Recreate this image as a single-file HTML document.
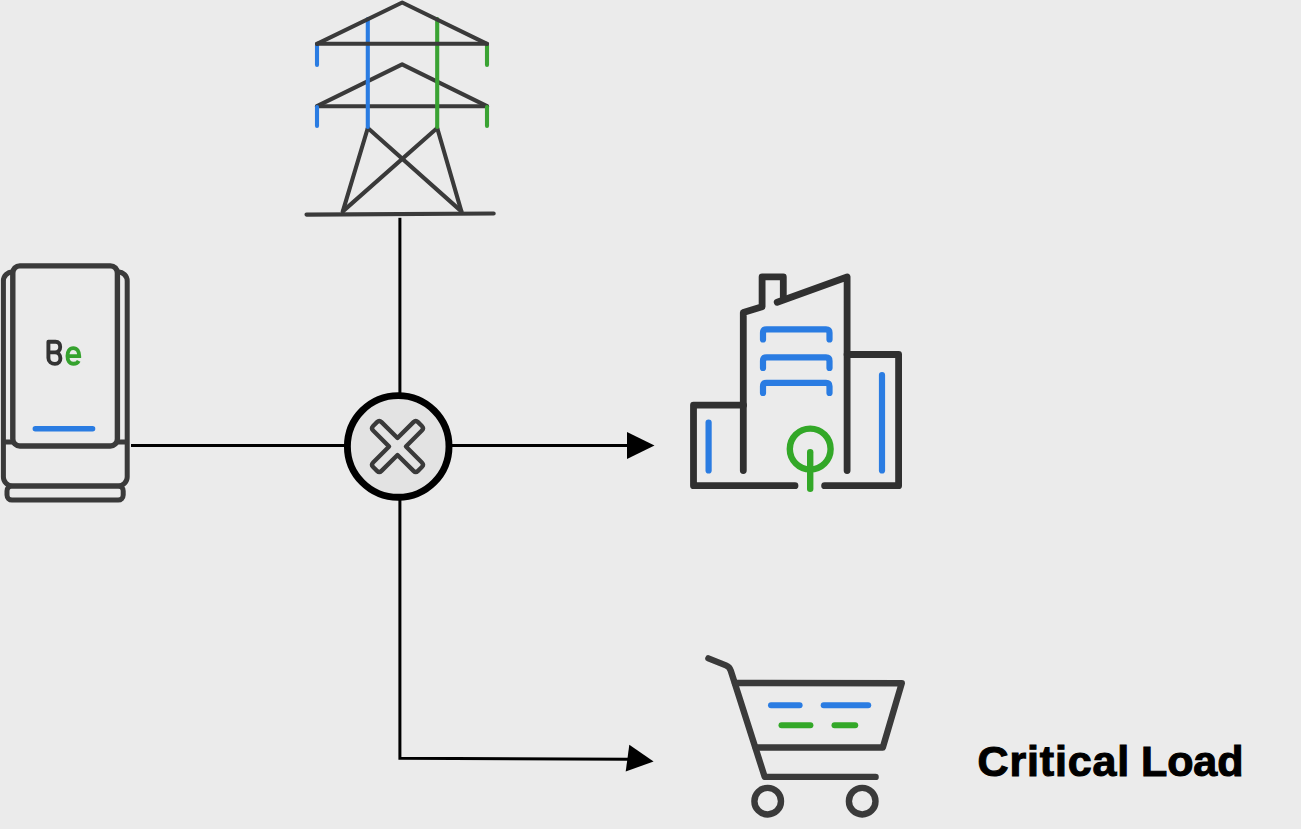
<!DOCTYPE html>
<html>
<head>
<meta charset="utf-8">
<style>
html,body{margin:0;padding:0;background:#ebebeb;}
body{width:1301px;height:829px;overflow:hidden;position:relative;}
svg{position:absolute;left:0;top:0;}
.t{position:absolute;left:977.5px;top:740.2px;font-family:"Liberation Sans",sans-serif;font-weight:bold;font-size:43px;color:#000;-webkit-text-stroke:1.1px #000;white-space:nowrap;line-height:1;}
</style>
</head>
<body>
<svg width="1301" height="829" viewBox="0 0 1301 829">
  <!-- connector lines -->
  <g stroke="#000" stroke-width="3" fill="none">
    <line x1="399.9" y1="217.8" x2="399.9" y2="394"/>
    <line x1="131" y1="445.6" x2="346" y2="445.6"/>
    <line x1="451" y1="445.6" x2="630" y2="445.6"/>
    <polyline points="399.9,499 399.9,758.2 628,759.2"/>
  </g>
  <polygon points="627,432 654.5,445.6 627,459" fill="#000"/>
  <polygon points="629.3,744.8 653.6,761.5 625.7,771.6" fill="#000"/>

  <!-- circle with X -->
  <circle cx="398.2" cy="446.4" r="50.8" fill="#e3e3e3" stroke="#000" stroke-width="6.9"/>


  <!-- battery -->
  <g stroke="#3a3a3a" stroke-width="5" fill="none" stroke-linejoin="round">
    <rect x="3.4" y="272" width="123.8" height="213.9" rx="9"/>
    <line x1="3.4" y1="442" x2="127.2" y2="442"/>
    <rect x="7" y="485.9" width="116.2" height="14.2" rx="5"/>
    <rect x="12.8" y="265.9" width="104.6" height="180.1" rx="7" fill="#ebebeb" stroke-width="5.4"/>
  </g>
  <line x1="35.3" y1="428.7" x2="92.6" y2="428.7" stroke="#2a7ce2" stroke-width="5.4" stroke-linecap="round"/>
  <path d="M48.4,352.4 V341.7 H55.5 C58.8,341.7 60.2,344.2 60.2,347 C60.2,350.2 58,352.4 55,352.4 H48.4 M48.4,341.7 V358 C48.4,361.7 51.5,363.9 55,363.9 C58.5,363.9 60.4,361.5 60.4,358.2 C60.4,354.8 58,352.4 55,352.4" fill="none" stroke="#333" stroke-width="3.9" stroke-linejoin="round"/>
  <path d="M67.3,356.1 H79.2 C79.2,351.5 77,348.1 73.3,348.1 C69.5,348.1 67.5,351.5 67.5,355.9 C67.5,360.5 69.5,363.8 73.5,363.8 C76,363.8 77.8,362.7 78.7,360.8" fill="none" stroke="#35a22e" stroke-width="3.9"/>
  <!-- building -->
  <g stroke="#303030" stroke-width="6.8" fill="none" stroke-linecap="round" stroke-linejoin="round">
    <polyline points="795,485.7 693.5,485.7 693.5,405.2 743.5,405.2"/>
    <polyline points="743.3,470.6 743.3,312.6 762.1,306.8 762.1,276.8 783.3,276.8 783.3,297.1"/>
    <polyline points="777.2,302.3 847.1,277 847.1,470.6"/>
    <polyline points="847.1,354.5 898.6,354.5 898.6,485.7 824.6,485.7"/>
  </g>
  <g stroke="#2a7ce2" stroke-width="6.2" fill="none" stroke-linecap="round" stroke-linejoin="round">
    <path d="M763,339.5 V332.8 Q763,329.3 766.5,329.3 H826.0 Q829.5,329.3 829.5,332.8 V339.5"/>
    <path d="M763,368 V360.9 Q763,357.4 766.5,357.4 H826.0 Q829.5,357.4 829.5,360.9 V368"/>
    <path d="M763,393 V386.3 Q763,382.8 766.5,382.8 H826.0 Q829.5,382.8 829.5,386.3 V393"/>
    <line x1="708.6" y1="422.5" x2="708.6" y2="470.4"/>
    <line x1="882" y1="375" x2="882" y2="470.4"/>
  </g>
  <g stroke="#33a828" stroke-width="6.4" fill="none" stroke-linecap="round">
    <circle cx="810.2" cy="449" r="20.4"/>
    <line x1="810.2" y1="452.3" x2="810.2" y2="488.7"/>
  </g>

  <!-- cart -->
  <g stroke="#3a3a3a" stroke-width="6.4" fill="none" stroke-linecap="round" stroke-linejoin="round">
    <path d="M708.4,658.4 L725.9,665.4 Q729.6,666.9 730.8,670.7 L764.7,776.9 H875.6"/>
    <polyline points="735,683 901.8,683.2 882.8,747.5 755.8,747.5"/>
    <circle cx="767.7" cy="801.2" r="13.3"/>
    <circle cx="862.2" cy="801.2" r="13.3"/>
  </g>
  <g stroke-width="6" fill="none" stroke-linecap="round">
    <line x1="771" y1="705.2" x2="799.6" y2="705.2" stroke="#2a7ce2"/>
    <line x1="823.7" y1="705.2" x2="868.2" y2="705.2" stroke="#2a7ce2"/>
    <line x1="781.5" y1="725.3" x2="810.4" y2="725.3" stroke="#33a828"/>
    <line x1="834.5" y1="725.3" x2="855.2" y2="725.3" stroke="#33a828"/>
  </g>
  <!-- X mark -->
  <path d="M5.95,-5.95 H28.55 Q31.75,-5.95 31.75,-2.75 V2.75 Q31.75,5.95 28.55,5.95 H5.95 V28.55 Q5.95,31.75 2.75,31.75 H-2.75 Q-5.95,31.75 -5.95,28.55 V5.95 H-28.55 Q-31.75,5.95 -31.75,2.75 V-2.75 Q-31.75,-5.95 -28.55,-5.95 H-5.95 V-28.55 Q-5.95,-31.75 -2.75,-31.75 H2.75 Q5.95,-31.75 5.95,-28.55 Z" transform="translate(397.5,446.5) rotate(45)" fill="none" stroke="#3a3a3a" stroke-width="4.3" stroke-linejoin="round"/>

  <!-- tower -->
  <g stroke="#3a3a3a" stroke-width="4.1" fill="none" stroke-linecap="round" stroke-linejoin="round">
    <polyline points="317,106.2 402.1,64.3 487,106.2"/>
    <line x1="317" y1="106.2" x2="487" y2="106.2"/>
    <line x1="367.8" y1="128" x2="342.8" y2="211.4"/>
    <line x1="437.2" y1="128" x2="461.4" y2="211.4"/>
    <line x1="367.8" y1="128" x2="461.4" y2="211.4"/>
    <line x1="437.2" y1="128" x2="342.8" y2="211.4"/>
    <line x1="306.5" y1="214.6" x2="493.7" y2="213.5"/>
  </g>
  <g stroke-width="4.1" fill="none" stroke-linecap="round">
    <g stroke="#2a7ce2">
      <line x1="367.8" y1="19" x2="367.8" y2="127"/>
      <line x1="317" y1="45" x2="317" y2="65"/>
      <line x1="317" y1="107" x2="317" y2="126"/>
    </g>
    <g stroke="#3aa333">
      <line x1="437.2" y1="19" x2="437.2" y2="127"/>
      <line x1="487" y1="45" x2="487" y2="65"/>
      <line x1="487" y1="107" x2="487" y2="126"/>
    </g>
  </g>
  <g stroke="#3a3a3a" stroke-width="4.1" fill="none" stroke-linecap="round" stroke-linejoin="round">
    <polyline points="317,43.8 402.2,2.5 487,43.8"/>
    <line x1="317" y1="43.8" x2="487" y2="43.8"/>
  </g>
</svg>
<div class="t" style="letter-spacing:0.85px">Critical</div><div class="t" style="left:1141px;letter-spacing:-0.1px">Load</div>
</body>
</html>
